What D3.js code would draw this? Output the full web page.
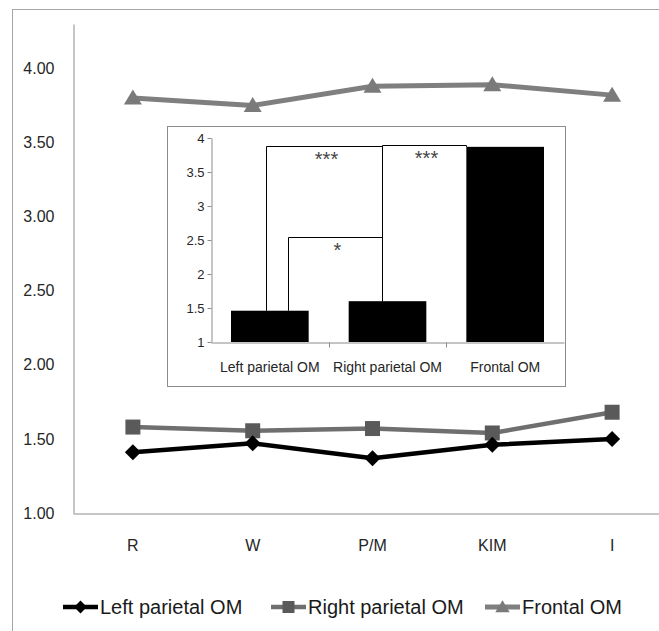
<!DOCTYPE html>
<html>
<head>
<meta charset="utf-8">
<script src="https://cdn.jsdelivr.net/npm/d3@7"></script>
<style>
  body { margin: 0; background: #fff; }
  svg { display: block; font-family: 'Liberation Sans', Arial, sans-serif; }
</style>
</head>
<body>
<svg id="chart" width="659" height="631"></svg>
<script>
// main chart data
const sessions = ['R', 'W', 'P/M', 'KIM', 'I']
const leftParietal = [1.41, 1.47, 1.37, 1.46, 1.50]
const rightParietal = [1.58, 1.555, 1.57, 1.54, 1.68]
const frontal = [3.80, 3.75, 3.88, 3.89, 3.82]
const yTicks = [1, 1.5, 2, 2.5, 3, 3.5, 4]

// inset bar chart data
const regions = ['Left parietal OM', 'Right parietal OM', 'Frontal OM']
const regionMeans = [1.46, 1.60, 3.87]
const insetTicks = [1, 1.5, 2, 2.5, 3, 3.5, 4]
// significance brackets: from/to region, anchor within bar (0..1), level, label
const brackets = [
  { from: 0, fromAt: 0.45, to: 1, toAt: 0.43, level: 3.88, label: '***' },
  { from: 0, fromAt: 0.73, to: 1, toAt: 0.43, level: 2.54, label: '*' },
  { from: 1, fromAt: 0.43, to: 2, toAt: 0, level: 3.90, label: '***' }
]

const svg = d3.select('#chart')

// outer frame
svg.append('rect')
  .attr('x', 12.5).attr('y', 9.5)
  .attr('width', 700).attr('height', 700)
  .attr('fill', 'none').attr('stroke', '#a6a6a6').attr('stroke-width', 1)

let x = d3.scaleBand().domain(sessions).range([73, 672])
let y = d3.scaleLinear().domain([1, 4.3]).range([513, 24])

let yAxis = d3.axisLeft(y).tickValues(yTicks).tickSize(0).tickSizeOuter(0).tickPadding(19)
  .tickFormat(d3.format('.2f'))
let gy = svg.append('g').attr('transform', 'translate(73.5,0)').call(yAxis)
gy.select('.domain').attr('stroke', '#8c8c8c')
gy.selectAll('text').attr('font-size', '16px').attr('fill', '#262626').attr('font-family', null)

let xAxis = d3.axisBottom(x).tickSize(0).tickSizeOuter(0).tickPadding(26)
let gx = svg.append('g').attr('transform', 'translate(0,513.5)').call(xAxis)
gx.select('.domain').attr('stroke', '#8c8c8c')
gx.selectAll('text').attr('font-size', '16px').attr('fill', '#262626').attr('font-family', null)

const series = [
  { name: 'Left parietal OM', values: leftParietal, line: '#000000', fill: '#000000', marker: 'diamond', width: 4.5 },
  { name: 'Right parietal OM', values: rightParietal, line: '#6f6f6f', fill: '#5a5a5a', marker: 'square', width: 4.5 },
  { name: 'Frontal OM', values: frontal, line: '#7f7f7f', fill: '#7a7a7a', marker: 'triangle', width: 5 }
]

const symbolPath = {
  diamond: 'M0,-8L8,0L0,8L-8,0Z',
  square: 'M-7.5,-7.5H7.5V7.5H-7.5Z',
  triangle: 'M0,-8.5L9,6.5H-9Z'
}

let line = d3.line()
  .x((d, i) => x(sessions[i]) + x.bandwidth() / 2)
  .y(d => y(d))

// draw in reverse so black line is on top
series.slice().reverse().forEach(s => {
  let g = svg.append('g')
  g.append('path')
    .datum(s.values)
    .attr('d', line)
    .attr('fill', 'none')
    .attr('stroke', s.line)
    .attr('stroke-width', s.width)
    .attr('stroke-linejoin', 'round')
  g.selectAll('.pt')
    .data(s.values)
    .enter()
    .append('path')
    .attr('class', 'pt')
    .attr('d', symbolPath[s.marker])
    .attr('fill', s.fill)
    .attr('transform', (d, i) => 'translate(' + (x(sessions[i]) + x.bandwidth() / 2) + ',' + y(d) + ')')
})

// legend
const legendX = [63, 271, 485]
let legend = svg.append('g').attr('transform', 'translate(0,607)')
series.forEach((s, i) => {
  let lg = legend.append('g').attr('transform', 'translate(' + legendX[i] + ',0)')
  lg.append('line').attr('x1', 0).attr('x2', 35).attr('y1', 0).attr('y2', 0)
    .attr('stroke', s.line).attr('stroke-width', s.width)
  lg.append('path').attr('d', symbolPath[s.marker]).attr('fill', s.fill)
    .attr('transform', 'translate(17.5,0) scale(0.8)')
  lg.append('text').attr('x', 37).attr('y', 0).attr('dy', '0.36em')
    .attr('font-size', '20px').attr('fill', '#1a1a1a')
    .text(s.name)
})

// ---------------- inset ----------------
let inset = svg.append('g')
inset.append('rect')
  .attr('x', 167.5).attr('y', 126.5).attr('width', 398).attr('height', 260)
  .attr('fill', '#fff').attr('stroke', '#8c8c8c')

let ix = d3.scaleBand().domain(regions).range([211, 564]).paddingInner(0.34).paddingOuter(0.17)
let ixb = d3.scaleBand().domain(regions).range([211, 564])
let iy = d3.scaleLinear().domain([1, 4]).range([342, 138])

let iyAxis = d3.axisLeft(iy).tickValues(insetTicks).tickSize(4).tickSizeOuter(0).tickPadding(3)
  .tickFormat(d3.format(''))
let giy = inset.append('g').attr('transform', 'translate(211.5,0)').call(iyAxis)
giy.selectAll('.domain, line').attr('stroke', '#8c8c8c')
giy.selectAll('text').attr('font-size', '13px').attr('fill', '#262626').attr('font-family', null)

let ixAxis = d3.axisBottom(ixb).tickSize(0).tickSizeOuter(0).tickPadding(20)
let gix = inset.append('g').attr('transform', 'translate(0,342.5)').call(ixAxis)
gix.select('.domain').attr('stroke', '#8c8c8c')
gix.selectAll('text').attr('font-size', '14px').attr('fill', '#262626').attr('font-family', null)
// band boundary ticks
gix.selectAll('.bound')
  .data(regions.slice(1))
  .enter()
  .append('line')
  .attr('class', 'bound')
  .attr('x1', d => Math.round(ixb(d)) + 0.5).attr('x2', d => Math.round(ixb(d)) + 0.5)
  .attr('y1', 0).attr('y2', 5)
  .attr('stroke', '#8c8c8c')

inset.selectAll('.bar')
  .data(regionMeans)
  .enter()
  .append('rect')
  .attr('class', 'bar')
  .attr('x', (d, i) => ix(regions[i]))
  .attr('width', ix.bandwidth())
  .attr('y', d => iy(d))
  .attr('height', d => iy(1) - iy(d))
  .attr('fill', '#000')

// brackets
const anchorX = (r, t) => Math.round(ix(regions[r]) + t * ix.bandwidth()) + 0.5
brackets.forEach(b => {
  let x1 = anchorX(b.from, b.fromAt)
  let x2 = anchorX(b.to, b.toAt)
  let yl = Math.round(iy(b.level)) + 0.5
  let y1 = iy(regionMeans[b.from])
  let y2 = iy(regionMeans[b.to])
  inset.append('path')
    .attr('d', 'M' + x1 + ',' + y1 + 'V' + yl + 'H' + x2 + 'V' + y2)
    .attr('fill', 'none').attr('stroke', '#000').attr('stroke-width', 1)
  inset.append('text')
    .attr('x', (x1 + x2) / 2 + 2)
    .attr('y', yl + 19)
    .attr('text-anchor', 'middle')
    .attr('font-size', '20px').attr('fill', '#444')
    .text(b.label)
})
</script>
</body>
</html>
